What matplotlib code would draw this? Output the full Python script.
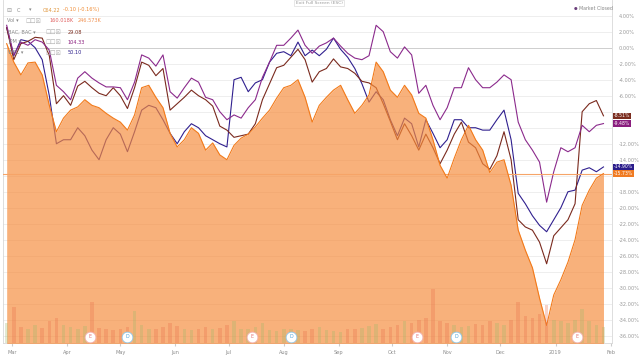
import numpy as np
import pandas as pd
import matplotlib
matplotlib.use("Agg")
import matplotlib.pyplot as plt
import matplotlib.dates as mdates
import matplotlib.transforms as mtransforms
from matplotlib.ticker import FuncFormatter

# sampled every 4 days, % change since the first day
dates = pd.date_range("2018-02-26", periods=85, freq="4D")

c_pct = [0.5, -1.8, -3.4, -1.9, -1.8, -3.4, -7.2, -10.5, -8.8, -7.8,
         -7.4, -6.5, -7.2, -7.5, -8.2, -8.8, -9.3, -10.3, -8.4, -5.0,
         -4.7, -6.2, -7.5, -10.7, -12.4, -11.5, -10.0, -10.7, -12.8, -11.9,
         -13.4, -14.0, -12.2, -11.3, -10.8, -9.9, -8.8, -7.8, -6.3, -5.0,
         -4.7, -4.0, -6.2, -9.3, -7.2, -6.2, -5.3, -4.7, -6.5, -8.2,
         -7.2, -5.9, -1.8, -3.0, -5.3, -6.2, -4.7, -5.9, -8.2, -8.8,
         -11.5, -14.7, -16.3, -13.8, -11.5, -9.7, -11.5, -12.8, -15.6, -14.3,
         -14.0, -17.2, -22.8, -25.3, -27.5, -31.3, -34.7, -30.9, -29.0, -26.8,
         -24.0, -19.7, -17.8, -16.3, -15.73]

jpm_pct = [2.8, -0.9, 0.7, 0.3, 1.0, 0.7, -0.3, -4.7, -5.5, -6.5,
           -3.8, -3.0, -3.8, -4.4, -4.9, -4.9, -5.0, -6.5, -4.3, -0.9,
           -1.3, -2.3, -0.9, -5.5, -6.3, -5.0, -3.8, -4.3, -6.2, -6.5,
           -8.0, -9.0, -8.4, -8.8, -7.5, -6.5, -3.7, -1.8, 0.3, 0.3,
           1.2, 2.2, 0.3, -0.7, 0.2, 0.6, 1.2, 0.2, -0.7, -1.3,
           -1.5, -1.0, 2.8, 2.0, -0.5, -1.3, 0.1, -0.9, -5.7, -4.7,
           -7.2, -9.0, -7.5, -5.0, -5.0, -2.5, -4.0, -5.0, -5.0, -4.3,
           -3.4, -4.0, -9.3, -11.5, -12.8, -14.3, -19.3, -15.5, -12.5, -13.0,
           -12.5, -9.7, -10.5, -9.7, -9.48]

bac_pct = [2.5, -1.5, 0.5, 0.8, 1.3, 1.2, -1.0, -7.0, -6.0, -7.2,
           -4.8, -4.2, -5.0, -5.7, -6.0, -5.0, -6.0, -7.6, -5.0, -1.8,
           -2.2, -3.5, -2.6, -7.8, -7.0, -6.2, -5.3, -6.0, -6.5, -7.3,
           -9.8, -10.3, -11.2, -11.0, -10.8, -9.5, -6.5, -4.5, -2.5, -2.2,
           -1.2, -0.2, -1.5, -4.3, -3.0, -2.6, -1.4, -2.4, -2.6, -3.2,
           -4.2, -4.4, -5.0, -7.0, -9.2, -11.5, -9.5, -11.0, -12.8, -10.8,
           -12.5, -14.5, -12.8, -10.8, -9.3, -11.8, -12.5, -14.5, -15.2, -13.5,
           -10.5, -14.0, -21.5, -22.4, -22.8, -24.3, -27.0, -23.5, -22.5, -21.5,
           -19.5, -8.0, -7.0, -6.6, -8.51]

wfc_pct = [2.5, -1.0, 1.0, 0.8, 0.0, -1.5, -6.0, -12.0, -11.5, -11.5,
           -10.0, -11.0, -12.8, -14.0, -11.5, -10.0, -10.8, -13.0, -10.5, -7.8,
           -7.2, -7.5, -9.0, -10.7, -12.0, -10.5, -9.5, -10.0, -11.0, -11.5,
           -12.0, -12.4, -4.0, -3.7, -5.5, -4.4, -4.0, -1.8, -0.7, -0.5,
           -1.0, 0.7, -1.0, -0.3, -1.0, -0.2, 1.2, -0.2, -1.2, -2.6,
           -4.5, -6.8, -5.5, -6.5, -9.0, -11.0, -8.8, -9.5, -12.4, -9.0,
           -10.7, -12.5, -11.5, -9.0, -9.0, -10.0, -10.0, -10.3, -10.3, -9.0,
           -7.8, -11.5, -18.2, -19.5, -21.0, -22.2, -23.0, -21.5, -20.0, -18.0,
           -17.8, -15.3, -15.0, -15.5, -14.90]

# C volume, millions of shares
volume = [22, 40, 18, 16, 20, 17, 24, 28, 20, 18,
          16, 19, 45, 17, 15, 14, 16, 18, 35, 20,
          16, 15, 18, 22, 19, 15, 14, 16, 18, 15,
          17, 20, 24, 16, 15, 18, 22, 14, 13, 15,
          16, 14, 13, 15, 18, 14, 13, 12, 15, 16,
          17, 19, 21, 16, 18, 20, 24, 22, 26, 28,
          60, 24, 22, 20, 18, 19, 21, 20, 24, 22,
          20, 26, 45, 30, 28, 32, 42, 26, 24, 22,
          25, 38, 24, 20, 18]

earn_dates = pd.to_datetime(["2018-04-14", "2018-07-14", "2018-10-15", "2019-01-13"])
div_dates = pd.to_datetime(["2018-05-05", "2018-08-05", "2018-11-06"])

tags = [("-8.51%", bac_pct[-1], "#7b2d1f"),
        ("-9.48%", jpm_pct[-1], "#8a1e7e"),
        ("-14.90%", wfc_pct[-1], "#2a1c8a"),
        ("-15.73%", c_pct[-1], "#f07b22")]

W, H = 640, 360


def px(x, y):
    return x / W, 1 - y / H


def pct_label(v, pos):
    # labels hidden behind a last-value tag are not shown
    if any(abs(v - t[1]) < 0.55 for t in tags):
        return ""
    return f"{v:.2f}%"


fig = plt.figure(figsize=(6.4, 3.6), dpi=100)
ax = fig.add_axes([3 / W, 17 / H, 609 / W, 343 / H])

ax.plot(dates, wfc_pct, color="#30208f", lw=0.8, zorder=2.0)
ax.plot(dates, bac_pct, color="#7a2a1e", lw=0.8, zorder=2.1)
ax.plot(dates, jpm_pct, color="#8b2a8c", lw=0.8, zorder=2.2)
ax.fill_between(dates, c_pct, -40, color="#f68c3c", alpha=0.68, lw=0, zorder=3)
ax.axhline(c_pct[-1], color="#f6a468", lw=0.8, zorder=4)
ax.plot(dates, c_pct, color="#f27a1a", lw=0.8, zorder=5)

ax.set_ylim(-36.9, 5.96)
start = pd.Timestamp("2018-03-01")
ax.set_xlim(start - pd.Timedelta(days=5.07), start + pd.Timedelta(days=337.8))

ax.set_axisbelow(True)
ax.grid(axis="y", color="#ebebeb", lw=0.6)
ax.grid(axis="x", visible=False)
ax.axhline(0, color="#cfcfcf", lw=0.7, zorder=0.6)

# volume on a hidden twin axis
ax2 = ax.twinx()
ax2.set_ylim(0, 380)
ax2.set_yticks([])
ax2.patch.set_visible(False)
for s in ax2.spines.values():
    s.set_visible(False)
changes = np.diff([c_pct[0]] + c_pct)
vcolors = ["#9fb86a" if ch >= 0 else "#e8704a" for ch in changes]
ax2.bar(dates, volume, width=2.0, color=vcolors, alpha=0.3, lw=0)

blend = mtransforms.blended_transform_factory(ax2.transData, ax2.transAxes)
ax2.scatter(earn_dates, [0.018] * len(earn_dates), s=60, color="white",
            edgecolor="#f3b0b0", lw=0.6, transform=blend, zorder=5)
ax2.scatter(div_dates, [0.018] * len(div_dates), s=60, color="white",
            edgecolor="#8cc8ec", lw=0.6, transform=blend, zorder=5)
for d in earn_dates:
    ax2.text(d, 0.018, "E", transform=blend, fontsize=3.4, color="#e57373",
             ha="center", va="center", zorder=6)
for d in div_dates:
    ax2.text(d, 0.018, "D", transform=blend, fontsize=3.4, color="#4fa3d9",
             ha="center", va="center", zorder=6)

# axes styling (twinx resets the tick side)
ax.yaxis.tick_right()
ax.set_yticks(np.arange(-36, 5, 2))
ax.yaxis.set_major_formatter(FuncFormatter(pct_label))
ax.tick_params(axis="y", length=0, labelsize=3.6, labelcolor="#9a9a9a", pad=5)

ax.xaxis.set_major_locator(mdates.MonthLocator())
ax.xaxis.set_major_formatter(FuncFormatter(
    lambda v, p: mdates.num2date(v).strftime("%Y" if mdates.num2date(v).month == 1 else "%b")))
ax.tick_params(axis="x", length=2, color="#cccccc", labelsize=3.6,
               labelcolor="#8c8c8c", pad=3)

ax.spines["top"].set_visible(False)
for side in ["left", "right", "bottom"]:
    ax.spines[side].set_color("#d8d8d8")
    ax.spines[side].set_linewidth(0.6)

# last value tags on the right
ytag = mtransforms.blended_transform_factory(ax.transAxes, ax.transData)
for label, val, col in tags:
    ax.text(1.003, val, label, transform=ytag, fontsize=3.3, color="white",
            ha="left", va="center", clip_on=False, zorder=10,
            bbox=dict(boxstyle="square,pad=0.15", fc=col, ec="none"))

# legend rows, top left
fs = 3.6
fig.text(*px(6, 10), "\u229f", fontsize=4.2, color="#999999", va="center")
fig.text(*px(17, 10), "C", fontsize=fs, color="#888888", va="center")
fig.text(*px(29, 10), "\u25be", fontsize=fs, color="#888888", va="center")
fig.text(*px(43, 10), "C64.22", fontsize=fs, color="#e0963c", va="center")
fig.text(*px(63, 10), "-0.10 (-0.16%)", fontsize=fs, color="#f08a30", va="center")

fig.text(*px(7, 21), "Vol \u25be", fontsize=fs, color="#888888", va="center")
fig.text(*px(25, 21), "\u2610\u2610\u2612", fontsize=4.2, color="#aaaaaa", va="center")
fig.text(*px(49, 21), "160.018K", fontsize=fs, color="#e06060", va="center")
fig.text(*px(78, 21), "246.573K", fontsize=fs, color="#f09050", va="center")

rows = [(32, "BAC, BAC \u25be", "29.08", "#7b2d1f"),
        (42, "JPM \u25be", "104.33", "#8a1e7e"),
        (53, "WFC \u25be", "50.10", "#2a1c8a")]
for y, name, val, col in rows:
    fig.text(*px(8, y), name, fontsize=fs, color="#888888", va="center")
    fig.text(*px(45, y), "\u2610\u2610\u2612", fontsize=4.2, color="#aaaaaa", va="center")
    fig.text(*px(68, y), val, fontsize=fs, color=col, va="center")

fig.text(*px(319, 3), "Exit Full Screen (ESC)", fontsize=3.2, color="#999999",
         ha="center", va="center",
         bbox=dict(boxstyle="square,pad=0.3", fc="white", ec="#dddddd", lw=0.5))
fig.text(*px(574, 9), "\u25cf", fontsize=3, color="#6a3d7a", va="center")
fig.text(*px(579, 9), "Market Closed", fontsize=3.4, color="#888888", va="center")

fig.savefig("out.png", dpi=100)
